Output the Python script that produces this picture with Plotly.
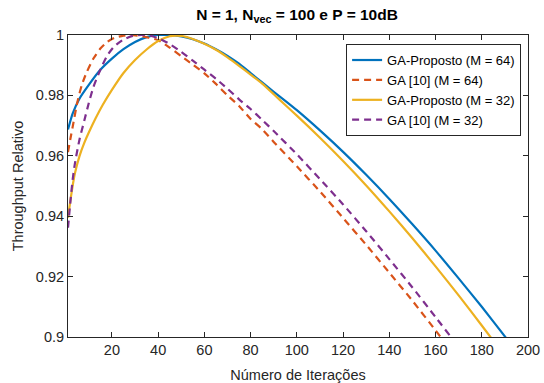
import plotly.graph_objects as go

# ---- data ----
x_blue = [1, 3, 6, 10, 15, 20, 25, 30, 35, 40, 45, 50, 55, 60, 65, 70, 75, 80, 85, 90, 95, 100,
          110, 120, 130, 140, 150, 160, 170, 180, 190, 200]
y_blue = [0.9687, 0.9740, 0.9790, 0.9835, 0.9885, 0.9922, 0.9953, 0.9977, 0.9993, 1.0, 1.0, 0.9995,
          0.9986, 0.9972, 0.9953, 0.9931, 0.9905, 0.9874, 0.9843, 0.9812, 0.9782, 0.9751,
          0.9684, 0.9613, 0.9537, 0.9457, 0.9373, 0.9286, 0.9194, 0.9100, 0.9002, 0.8902]

x_orange = [1, 2, 3, 5, 7, 9, 12, 15, 18, 21, 25, 28, 32, 36, 40, 45, 50, 55, 60, 65, 70, 75, 80,
            85, 90, 100, 110, 120, 130, 140, 150, 160, 170]
y_orange = [0.9612, 0.9655, 0.9695, 0.9776, 0.9835, 0.9875, 0.9922, 0.9955, 0.9977, 0.9990, 0.9998,
            1.0, 0.9997, 0.9991, 0.9983, 0.9958, 0.9930, 0.9902, 0.9873, 0.9838, 0.9800, 0.9765,
            0.9722, 0.9688, 0.9646, 0.9565, 0.9482, 0.9394, 0.9305, 0.9213, 0.9120, 0.9022, 0.8922]

x_yellow = [1, 2, 3, 4, 6, 8, 10, 13, 16, 20, 25, 30, 35, 40, 45, 50, 55, 60, 65, 70, 75, 80, 85,
            90, 95, 100, 110, 120, 130, 140, 150, 160, 170, 180, 190, 200]
y_yellow = [0.9395, 0.9450, 0.9500, 0.9542, 0.9600, 0.9642, 0.9677, 0.9725, 0.9768, 0.9818, 0.9874,
            0.9917, 0.9952, 0.9980, 0.9996, 0.9997, 0.9987, 0.9971, 0.9951, 0.9926, 0.9898, 0.9869,
            0.9839, 0.9804, 0.9768, 0.9733, 0.9660, 0.9583, 0.9502, 0.9416, 0.9327, 0.9234,
            0.9138, 0.9038, 0.8937, 0.8840]

x_purple = [1, 2, 3, 4, 6, 8, 10, 12, 15, 18, 21, 25, 29, 33, 37, 41, 45, 50, 55, 60, 65, 70, 75,
            80, 85, 90, 100, 110, 120, 130, 140, 150, 160, 170]
y_purple = [0.9362, 0.9445, 0.9520, 0.9575, 0.9655, 0.9715, 0.9775, 0.9828, 0.9885, 0.9932, 0.9962,
            0.9985, 0.9997, 1.0, 0.9997, 0.9986, 0.9970, 0.9944, 0.9915, 0.9885, 0.9855, 0.9822,
            0.9787, 0.9755, 0.9719, 0.9682, 0.9605, 0.9523, 0.9439, 0.9350, 0.9258, 0.9164,
            0.9066, 0.8967]

names = ["GA-Proposto (M = 64)", "GA [10] (M = 64)", "GA-Proposto (M = 32)", "GA [10] (M = 32)"]
x_ticks = [20, 40, 60, 80, 100, 120, 140, 160, 180, 200]
y_ticks = [0.9, 0.92, 0.94, 0.96, 0.98, 1.0]
y_tick_labels = ["0.9", "0.92", "0.94", "0.96", "0.98", "1"]

FONT = "Liberation Sans, Arial, Helvetica, sans-serif"
AX = "#262626"

fig = go.Figure()
series = [
    (x_blue, y_blue, "#0072BD", "solid"),
    (x_orange, y_orange, "#D95319", "7px,5px"),
    (x_yellow, y_yellow, "#EDB120", "solid"),
    (x_purple, y_purple, "#7E2F8E", "7px,5px"),
]
for (xs, ys, col, dash), nm in zip(series, names):
    fig.add_trace(go.Scatter(x=xs, y=ys, mode="lines", name=nm,
                             line=dict(color=col, width=2.2, dash=dash, shape="spline", smoothing=0.6)))

axis_common = dict(showline=True, linecolor=AX, linewidth=1, mirror="ticks", ticks="inside",
                   ticklen=5, tickcolor=AX, showgrid=False, zeroline=False, automargin=False,
                   tickfont=dict(family=FONT, size=14.5, color=AX))

fig.update_layout(
    width=544, height=383,
    margin=dict(l=68, r=16, t=35, b=46),
    paper_bgcolor="white", plot_bgcolor="white",
    font=dict(family=FONT, color=AX),
    title=dict(text="<b>N = 1, N<sub>vec</sub> = 100 e P = 10dB</b>", x=0.546, xanchor="center",
               y=0.962, yanchor="middle", yref="container",
               font=dict(family=FONT, size=15.5, color="black")),
    xaxis=dict(range=[1, 200], tickvals=x_ticks, **axis_common,
               title=dict(text="Número de Iterações", font=dict(family=FONT, size=14.5, color=AX), standoff=12)),
    yaxis=dict(range=[0.9, 1.0], tickvals=y_ticks, ticktext=y_tick_labels, **axis_common,
               title=dict(text="Throughput Relativo", font=dict(family=FONT, size=14.5, color=AX), standoff=8)),
    legend=dict(x=0.985, y=0.970, xanchor="right", yanchor="top",
                bgcolor="white", bordercolor=AX, borderwidth=1,
                font=dict(family=FONT, size=13, color="black"),
                tracegroupgap=0, itemwidth=30),
    showlegend=True,
)

fig.write_html("out.html")
